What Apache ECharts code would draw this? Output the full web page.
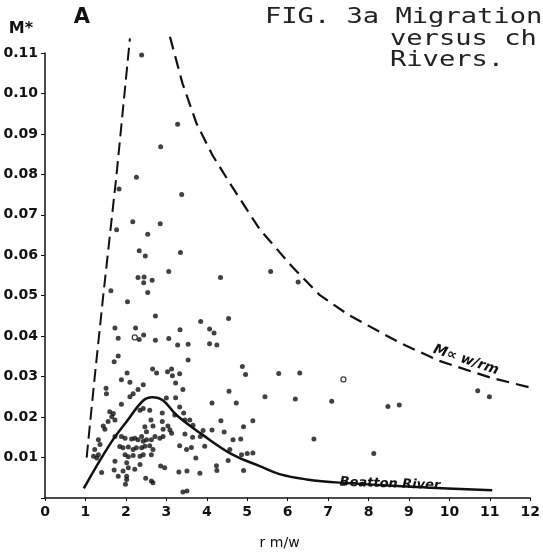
<!DOCTYPE html>
<html>
<head>
<meta charset="utf-8">
<script src="https://cdn.jsdelivr.net/npm/echarts/dist/echarts.min.js"></script>
<style>
  html, body { margin: 0; padding: 0; background: #fff; }
  #chart { width: 543px; height: 555px; }
</style>
</head>
<body>
<div id="chart"></div>
<script>
// tick labels
const xTicks = [0, 1, 2, 3, 4, 5, 6, 7, 8, 9, 10, 11, 12]
const yTickLabels = ['0.01', '0.02', '0.03', '0.04', '0.05', '0.06', '0.07', '0.08', '0.09', '0.10', '0.11']

// measured points, [r m/w, M*]
const dots = [
  [2.39, 0.1095], [3.28, 0.0924], [2.86, 0.0868], [2.26, 0.0793],
  [1.83, 0.0764], [3.38, 0.0750], [2.17, 0.0683], [2.85, 0.0678], [1.77, 0.0663], [2.54, 0.0652],
  [2.33, 0.0611], [2.48, 0.0598], [3.35, 0.0607], [3.06, 0.0560], [5.58, 0.0560], [4.34, 0.0545],
  [2.30, 0.0545], [2.45, 0.0546], [2.44, 0.0532], [2.65, 0.0538], [1.63, 0.0512], [2.54, 0.0508],
  [2.04, 0.0485], [2.73, 0.0450], [4.54, 0.0444], [3.85, 0.0436], [1.73, 0.0420], [2.24, 0.0420],
  [3.34, 0.0416], [4.07, 0.0418], [4.18, 0.0408], [1.81, 0.0395], [2.33, 0.0392], [2.44, 0.0403],
  [2.73, 0.0390], [3.06, 0.0394], [3.28, 0.0378], [3.54, 0.0380], [4.07, 0.0381], [4.25, 0.0378],
  [6.26, 0.0534],
  [5.78, 0.0308], [6.30, 0.0309], [5.44, 0.0250], [6.19, 0.0245], [7.09, 0.0239], [8.48, 0.0226],
  [8.76, 0.0230], [10.70, 0.0265], [10.99, 0.0250], [6.65, 0.0146], [8.13, 0.0110],
  [1.81, 0.0351], [1.71, 0.0337], [2.03, 0.0309], [2.66, 0.0319], [2.76, 0.0309], [3.03, 0.0312],
  [3.13, 0.0319], [3.15, 0.0302], [1.89, 0.0292], [2.10, 0.0286], [2.43, 0.0280], [2.30, 0.0268],
  [1.51, 0.0271], [1.52, 0.0258], [2.10, 0.0250], [2.18, 0.0258], [1.89, 0.0232], [2.35, 0.0217],
  [2.43, 0.0221], [2.59, 0.0217], [2.90, 0.0210], [1.60, 0.0213], [1.69, 0.0209], [1.65, 0.0201],
  [1.56, 0.0189], [1.73, 0.0193], [2.62, 0.0193], [1.44, 0.0178], [1.48, 0.0170], [2.67, 0.0178],
  [2.47, 0.0176], [2.51, 0.0164], [2.90, 0.0189], [2.92, 0.0170], [3.04, 0.0178], [1.73, 0.0152],
  [1.89, 0.0152], [1.98, 0.0148], [2.14, 0.0146], [2.22, 0.0148], [2.30, 0.0144], [2.39, 0.0152],
  [2.43, 0.0140], [2.51, 0.0144], [2.63, 0.0144], [2.72, 0.0152], [2.84, 0.0148], [2.92, 0.0152],
  [1.32, 0.0144], [1.36, 0.0132], [1.85, 0.0127], [1.93, 0.0124], [2.06, 0.0126], [2.18, 0.0120],
  [2.26, 0.0124], [2.39, 0.0124], [2.47, 0.0128], [2.59, 0.0129], [2.67, 0.0120], [1.23, 0.0120],
  [1.32, 0.0107], [1.28, 0.0099], [1.98, 0.0107], [2.06, 0.0102], [2.18, 0.0105], [2.35, 0.0103],
  [2.43, 0.0107], [2.63, 0.0107], [1.73, 0.0091], [2.02, 0.0087], [2.35, 0.0083], [2.06, 0.0075],
  [1.93, 0.0067], [2.22, 0.0071], [1.40, 0.0063], [1.71, 0.0069], [1.81, 0.0054], [2.02, 0.0054],
  [2.02, 0.0046], [2.49, 0.0049], [2.63, 0.0042], [2.86, 0.0079], [2.96, 0.0075], [1.99, 0.0034],
  [2.67, 0.0038], [1.20, 0.0103],
  [3.54, 0.0341], [4.88, 0.0325], [4.96, 0.0305], [3.23, 0.0284], [3.41, 0.0268], [3.23, 0.0248],
  [4.55, 0.0264], [4.13, 0.0235], [4.73, 0.0235], [3.33, 0.0225], [3.43, 0.0210], [3.46, 0.0193],
  [3.21, 0.0205], [3.09, 0.0168], [3.13, 0.0160], [3.58, 0.0193], [3.66, 0.0180], [4.35, 0.0191],
  [5.14, 0.0191], [3.46, 0.0158], [3.91, 0.0167], [4.13, 0.0168], [4.43, 0.0163], [4.91, 0.0176],
  [3.65, 0.0150], [3.84, 0.0152], [4.65, 0.0144], [4.84, 0.0146], [3.33, 0.0129], [3.62, 0.0125],
  [3.95, 0.0128], [3.50, 0.0120], [4.57, 0.0120], [4.86, 0.0107], [5.00, 0.0110], [5.14, 0.0111],
  [3.73, 0.0099], [4.53, 0.0093], [4.24, 0.0080], [4.25, 0.0068], [3.31, 0.0064], [3.51, 0.0067],
  [3.83, 0.0061], [4.91, 0.0068], [3.41, 0.0015], [3.51, 0.0017], [3.33, 0.0307], [3.00, 0.0247]
]
const openDots = [[2.22, 0.0397], [7.38, 0.0293]]

// envelope lines and the Beatton River curve
const leftEnvelope = [[1.03, 0.010], [1.23, 0.030], [1.44, 0.050], [1.77, 0.080], [2.10, 0.1136]]
const rightEnvelope = [
  [3.09, 0.1140], [3.40, 0.1025], [3.75, 0.0925], [4.15, 0.0846], [4.61, 0.0772], [5.31, 0.0664],
  [6.12, 0.0571], [6.79, 0.0502], [7.50, 0.0453], [8.27, 0.0411], [8.77, 0.0384], [9.75, 0.0339],
  [11.0, 0.0298], [12.0, 0.0273]
]
const beattonRiver = [
  [0.96, 0.0024], [1.60, 0.0132], [2.02, 0.0189], [2.43, 0.0241], [2.65, 0.0249], [2.92, 0.0241],
  [3.25, 0.0205], [3.90, 0.0156], [4.64, 0.0107], [5.31, 0.0079], [5.80, 0.0059], [6.47, 0.0046],
  [7.28, 0.0038], [9.42, 0.0026], [11.06, 0.0019]
]

const ink = '#111'
const tickFont = { fontFamily: 'DejaVu Sans', fontWeight: 'bold', fontSize: 14, color: ink }
const figFont = '21px "DejaVu Sans Mono"'

const chart = echarts.init(document.getElementById('chart'), null, { renderer: 'canvas' })

chart.setOption({
  animation: false,
  backgroundColor: '#fff',
  grid: { left: 45, right: 12, top: 53, bottom: 51 },
  xAxis: {
    type: 'value',
    min: xTicks[0],
    max: xTicks[xTicks.length - 1],
    interval: 1,
    splitLine: { show: false },
    axisLine: { lineStyle: { color: ink, width: 1.5 } },
    axisTick: { length: 3, lineStyle: { color: ink } },
    axisLabel: { ...tickFont, margin: 7 },
    name: 'r m/w',
    nameLocation: 'middle',
    nameGap: 38,
    nameTextStyle: { fontFamily: 'DejaVu Sans', fontSize: 14, color: ink, padding: [0, 16, 0, 0] }
  },
  yAxis: {
    type: 'value',
    min: 0,
    max: 0.11,
    interval: 0.01,
    splitLine: { show: false },
    axisLine: { show: true, lineStyle: { color: ink, width: 1.5 } },
    axisTick: { show: true, length: 4, lineStyle: { color: ink } },
    axisLabel: {
      ...tickFont,
      margin: 7,
      formatter: (v) => {
        const i = Math.round(v * 100) - 1
        return i >= 0 ? yTickLabels[i] : ''
      }
    }
  },
  series: [
    {
      type: 'scatter',
      data: dots,
      symbolSize: 5,
      itemStyle: { color: ink },
      silent: true
    },
    {
      type: 'scatter',
      data: openDots,
      symbolSize: 5,
      itemStyle: { color: '#fff', borderColor: ink, borderWidth: 1.3 },
      silent: true
    },
    {
      type: 'line',
      data: leftEnvelope,
      showSymbol: false,
      clip: false,
      lineStyle: { color: ink, width: 2, type: [13, 6] },
      silent: true
    },
    {
      type: 'line',
      data: rightEnvelope,
      showSymbol: false,
      clip: false,
      lineStyle: { color: ink, width: 2.2, type: [13, 7] },
      silent: true
    },
    {
      type: 'line',
      data: beattonRiver,
      showSymbol: false,
      smooth: 0.4,
      lineStyle: { color: ink, width: 2.5 },
      silent: true
    }
  ],
  graphic: [
    { type: 'text', x: 82, y: 18, style: { text: 'A', font: 'bold 21px "DejaVu Sans"', fill: ink, align: 'center', verticalAlign: 'middle' } },
    { type: 'text', x: 21, y: 29, style: { text: 'M*', font: 'bold 16px "DejaVu Sans"', fill: ink, align: 'center', verticalAlign: 'middle' } },
    { type: 'text', x: 265, y: 18, scaleX: 1.29, style: { text: 'FIG. 3a Migration', font: figFont, fill: '#222', align: 'left', verticalAlign: 'middle' } },
    { type: 'text', x: 390, y: 40, scaleX: 1.29, style: { text: 'versus ch', font: figFont, fill: '#222', align: 'left', verticalAlign: 'middle' } },
    { type: 'text', x: 390, y: 61, scaleX: 1.29, style: { text: 'Rivers.', font: figFont, fill: '#222', align: 'left', verticalAlign: 'middle' } },
    { type: 'text', x: 466, y: 360, rotation: -0.33, style: { text: 'M\u221D w/rm', font: 'italic bold 14px "DejaVu Sans"', fill: ink, align: 'center', verticalAlign: 'middle' } },
    { type: 'text', x: 390, y: 484, rotation: -0.035, style: { text: 'Beatton River', font: 'italic bold 13px "DejaVu Sans"', fill: ink, align: 'center', verticalAlign: 'middle' } }
  ]
})
</script>
</body>
</html>
